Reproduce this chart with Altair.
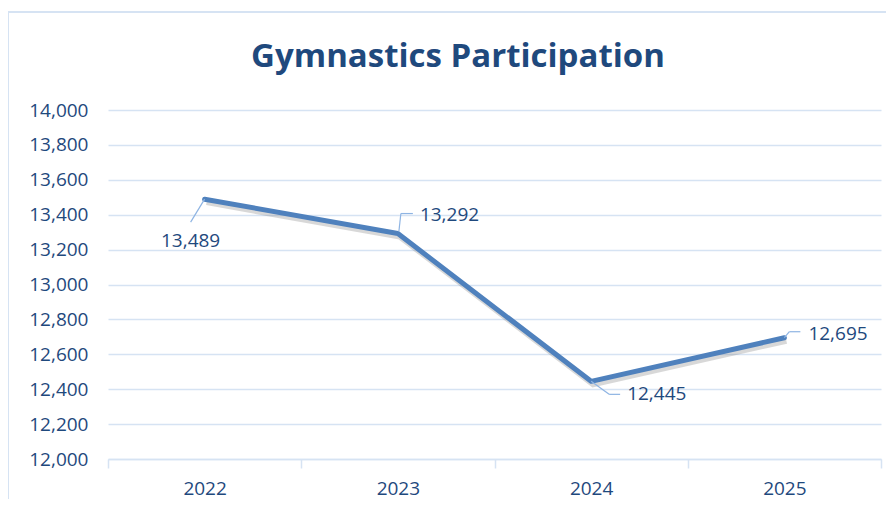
import altair as alt
import pandas as pd

years = ["2022", "2023", "2024", "2025"]
participants = [13489, 13292, 12445, 12695]
y_ticks = [12000, 12200, 12400, 12600, 12800, 13000, 13200, 13400, 13600, 13800, 14000]
title_text = "Gymnastics Participation"

# label styling: leader-line offsets (pixels) and text offsets
label_style = {
    "2022": dict(seg=[(0, 0, -14, 23)], tdx=-14, tdy=42, align="center"),
    "2023": dict(seg=[(1, -2, 3, -20), (3, -20, 15, -20)], tdx=22, tdy=-19, align="left"),
    "2024": dict(seg=[(0, 0, 18, 13), (18, 13, 29, 13)], tdx=36, tdy=13, align="left"),
    "2025": dict(seg=[(0, 0, 5, -6), (5, -6, 16, -6)], tdx=24, tdy=-4, align="left"),
}

df = pd.DataFrame({"Year": years, "Participants": participants})

DARK = "#1F497D"
GRID = "#D6E3F3"
LINE = "#4F81BD"
FONT = "Open Sans"

x_enc = alt.X("Year:N", scale=alt.Scale(type="band", paddingInner=0, paddingOuter=0),
              axis=alt.Axis(title=None, labelAngle=0, labelFontSize=19, labelColor=DARK,
                            labelFont=FONT, domainColor=GRID, domainWidth=1.5,
                            tickColor=GRID, tickSize=9, tickBand="extent", tickWidth=1.5,
                            labelPadding=11, grid=False))
y_enc = alt.Y("Participants:Q", scale=alt.Scale(domain=[12000, 14000], nice=False, zero=False),
              axis=alt.Axis(title=None, values=y_ticks, format=",.0f", labelFontSize=19,
                            labelColor=DARK, labelFont=FONT, domain=False, ticks=False,
                            gridColor=GRID, gridWidth=1.5, labelPadding=20))

base = alt.Chart(df)

frame = base.mark_rect(fillOpacity=0, stroke=GRID, strokeWidth=2).encode(
    x=alt.value(-100), x2=alt.value(900), y=alt.value(-98), y2=alt.value(500)
).transform_filter(alt.datum.Year == "2022")

title = base.mark_text(font=FONT, fontSize=33, fontWeight="bold", color=DARK,
                       align="center", baseline="middle").encode(
    x=alt.value(350), y=alt.value(-53), text=alt.value(title_text)
).transform_filter(alt.datum.Year == "2022")

shadow = base.mark_line(color="#7F7F7F", opacity=0.3, strokeWidth=6, xOffset=2, yOffset=3).encode(
    x=x_enc, y=y_enc)
line = base.mark_line(color=LINE, strokeWidth=5, strokeCap="round", strokeJoin="round").encode(
    x=x_enc, y=y_enc)

layers = [frame, title, shadow, line]
for yr, st in label_style.items():
    sub = base.transform_filter(alt.datum.Year == yr)
    for (a, b, c, d) in st["seg"]:
        layers.append(sub.mark_rule(color="#8EB4E3", strokeWidth=1.2,
                                    xOffset=a, yOffset=b, x2Offset=c, y2Offset=d).encode(
            x=x_enc, y=y_enc, x2=alt.X2("Year:N"), y2=alt.Y2("Participants:Q")))
    layers.append(sub.mark_text(font=FONT, fontSize=19, color=DARK, align=st["align"],
                                baseline="middle", dx=st["tdx"], dy=st["tdy"]).encode(
        x=x_enc, y=y_enc, text=alt.Text("Participants:Q", format=",")))

chart = alt.layer(*layers).properties(
    width=773, height=349,
    padding={"left": 100, "top": 102, "right": 5, "bottom": 40},
    autosize=alt.AutoSizeParams(type="none"),
).configure(background="white", view=alt.ViewConfig(stroke="transparent", strokeWidth=0))

chart.save("out.html", embed_options={"renderer": "svg", "actions": False})
